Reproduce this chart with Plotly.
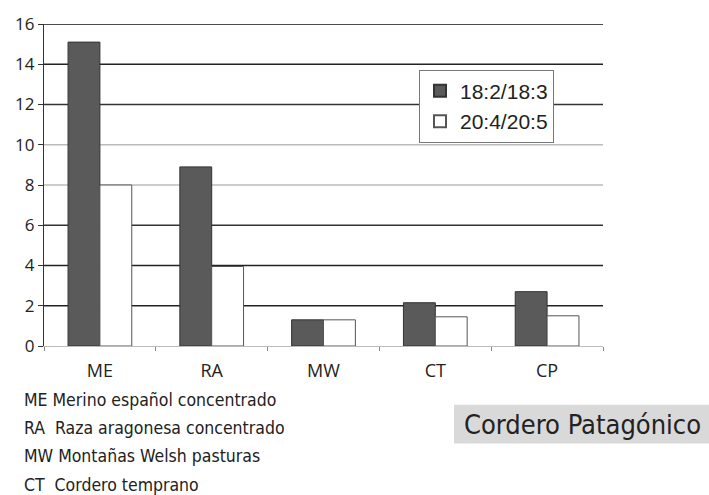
import plotly.graph_objects as go

categories = ["ME", "RA", "MW", "CT", "CP"]
series_names = ["18:2/18:3", "20:4/20:5"]
values_18 = [15.1, 8.9, 1.3, 2.15, 2.7]
values_20 = [8.0, 3.95, 1.3, 1.45, 1.5]
y_ticks = [0, 2, 4, 6, 8, 10, 12, 14, 16]
grid_levels = [2, 4, 6, 8, 10, 12, 14, 16]
grid_colors = ["#222", "#222", "#333", "#bbb", "#bbb", "#333", "#222", "#111"]
notes = [
    "ME Merino español concentrado",
    "RA  Raza aragonesa concentrado",
    "MW Montañas Welsh pasturas",
    "CT  Cordero temprano",
]
badge = "Cordero Patagónico"

W, H = 709, 495
L, R, T, B = 44, 106, 22, 149
pw, ph = W - L - R, H - T - B


def px_x(p):
    return (p - L) / pw


def px_y(p):
    return (H - B - p) / ph


fig = go.Figure()
fig.add_trace(go.Bar(x=categories, y=values_18, name=series_names[0],
                     marker=dict(color="#5a5a5a", line=dict(color="#333", width=1))))
fig.add_trace(go.Bar(x=categories, y=values_20, name=series_names[1],
                     marker=dict(color="#ffffff", line=dict(color="#555", width=1))))

for lv, c in zip(grid_levels, grid_colors):
    fig.add_shape(type="line", xref="paper", yref="y", x0=0, x1=1, y0=lv, y1=lv,
                  line=dict(color=c, width=1.3), layer="below")

cond = "Liberation Sans Narrow, DejaVu Sans Condensed, Roboto Condensed, Noto Sans"
line_px = [400, 429, 457, 486]
for txt, py in zip(notes, line_px):
    fig.add_annotation(text=txt, xref="paper", yref="paper",
                       x=px_x(22), y=px_y(py), xanchor="left", yanchor="middle",
                       showarrow=False, font=dict(family=cond, size=17.5, color="#222"))

fig.add_shape(type="rect", xref="paper", yref="paper",
              x0=px_x(454), x1=px_x(712), y0=px_y(405), y1=px_y(444),
              fillcolor="#d9d9d9", line=dict(width=0), layer="below")
fig.add_annotation(text=badge, xref="paper", yref="paper",
                   x=px_x(582), y=px_y(424.5), xanchor="center", yanchor="middle",
                   showarrow=False,
                   font=dict(family=cond, size=27, color="#222"))

fig.update_layout(
    width=W, height=H,
    margin=dict(l=L, r=R, t=T, b=B, pad=0),
    paper_bgcolor="white", plot_bgcolor="white",
    barmode="group", bargap=0.43, bargroupgap=0,
    font=dict(family="Open Sans, Noto Sans, sans-serif", color="#222"),
    legend=dict(x=px_x(419), y=px_y(68), xanchor="left", yanchor="top",
                bgcolor="white", bordercolor="#777", borderwidth=1,
                font=dict(family="Liberation Sans, Arial", size=21, color="#222"),
                itemsizing="constant", itemwidth=30),
    showlegend=True,
)
fig.update_xaxes(type="category", showline=True, linecolor="#bbb", linewidth=1.3,
                 ticks="outside", tickson="boundaries", ticklen=4, tickcolor="#888",
                 ticklabelstandoff=8,
                 tickfont=dict(size=18, color="#222"), showgrid=False)
fig.update_yaxes(range=[0, 16], tickvals=y_ticks, showline=True, linecolor="#333", linewidth=1.3,
                 ticks="outside", ticklen=5, tickcolor="#333", showgrid=False, zeroline=False,
                 tickfont=dict(size=17, color="#222"))

fig.write_html("out.html")
